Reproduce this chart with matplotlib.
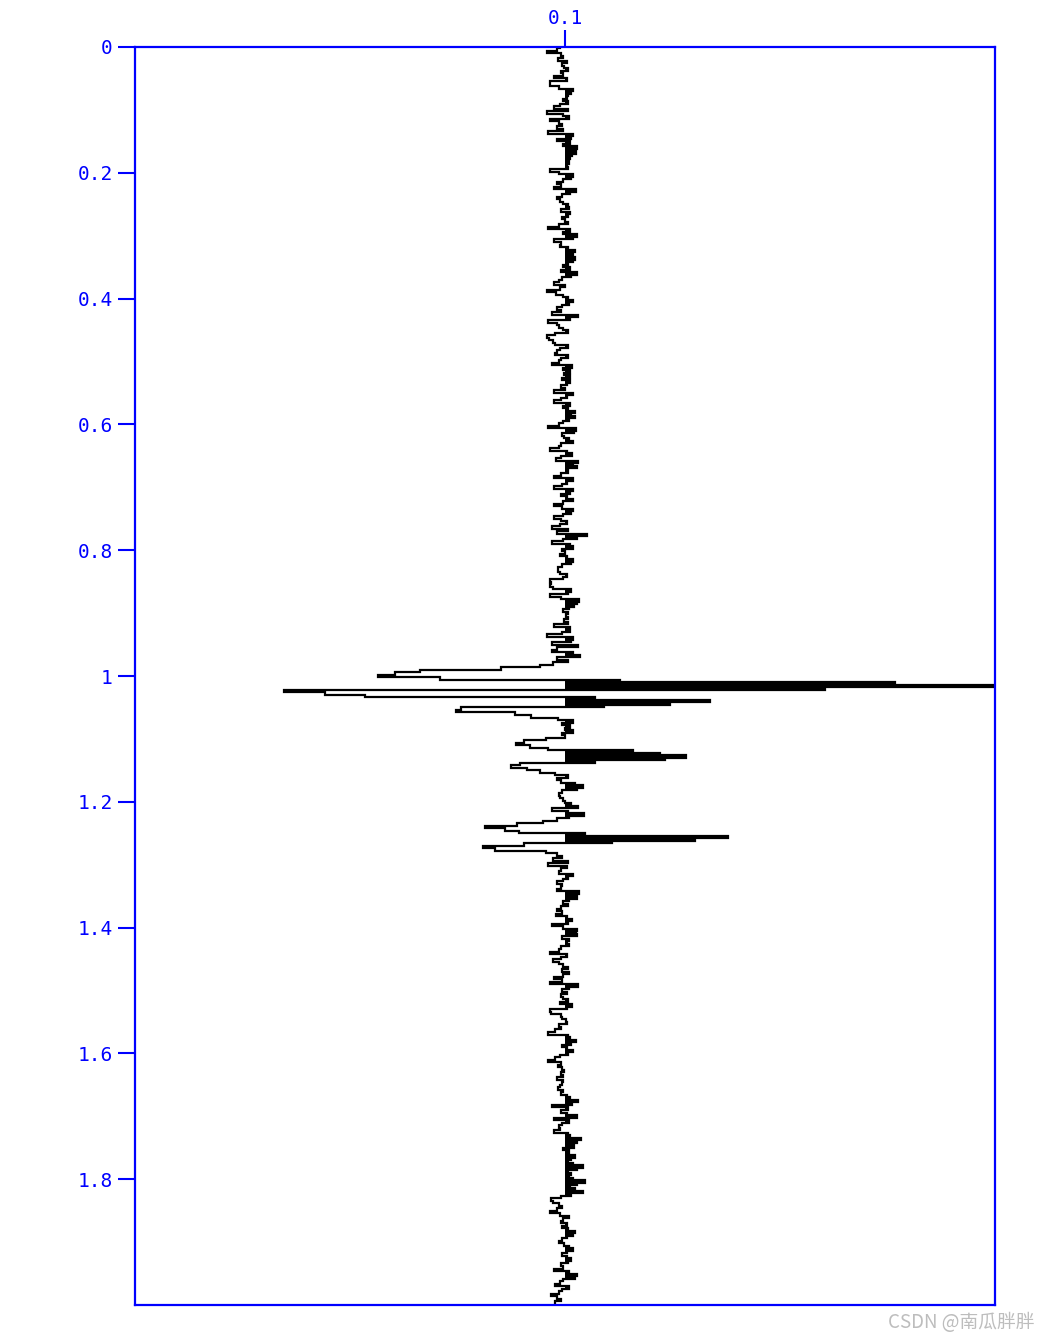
import numpy as np
import matplotlib
matplotlib.use('Agg')
import matplotlib.pyplot as plt
from matplotlib.ticker import FixedLocator, FuncFormatter

# one seismic trace, 4 ms sampling, amplitudes
dt = 0.004
trace_key = 0.1
clip = 430

amp = [
    -5, -8, -18, -4, -2, -7, 2, -3, -1, 3,
    -4, -2, -11, 2, -15, -15, -6, 8, 6, 3,
    2, -2, 3, -5, -11, 3, -18, -2, 4, -15,
    -6, -3, -8, -2, -17, 8, 6, -8, 5, -2,
    12, 10, 11, 7, 5, 3, 4, 2, 3, -15,
    -6, 8, 6, -2, -8, -4, -11, 11, 5, -3,
    -8, -5, -2, 3, 4, -4, 5, 3, -3, 0,
    3, -6, -17, 5, -2, 12, 8, -11, -4, -5,
    3, 10, 8, 4, 10, 8, 3, -2, 5, -4,
    12, 6, -3, -6, -11, 0, -5, -18, -9, -2,
    3, 8, 4, -3, -8, -4, -13, 13, 5, -17,
    -8, -6, -2, 3, -10, -18, -16, -12, -10, 3,
    -5, -8, -10, 3, -4, -6, -13, 7, -2, 5,
    -1, 5, -3, 5, 2, -4, 0, -11, 8, 2,
    -4, -11, 5, -2, 3, 10, 6, 10, 4, -2,
    -6, -17, 11, 9, -3, -1, 4, 8, -4, -6,
    -15, 2, 7, -4, -9, 13, 8, 12, 3, 3,
    -4, -11, 8, 2, -3, -11, 8, 5, -4, 2,
    8, -2, -11, -3, 8, 6, -2, -11, -4, 2,
    -5, -13, 3, -8, 22, 12, -2, -13, 5, 8,
    -3, 0, -5, 2, 8, 6, -3, -7, -7, -5,
    2, -2, -15, -14, -15, -12, 6, 3, -15, -4,
    14, 12, 9, 4, -2, 3, 1, 3, -1, 3,
    -11, 5, 5, -3, -18, 8, 6, -13, 13, -8,
    -13, 8, 15, -8, 3, -12, -25, -64, -145, -170,
    -187, -125, 55, 330, 445, 260, -281, -240, -200, 30,
    145, 105, 39, -104, -109, -50, -34, -7, 8, -3,
    5, 0, 8, -3, 0, -19, -41, -49, -35, -17,
    68, 95, 121, 100, 30, -45, -54, -38, -25, -10,
    3, -8, -4, 10, 18, 12, -3, -6, -5, -2,
    0, 6, 13, -13, 3, 19, 4, -8, -22, -48,
    -80, -60, -46, 20, 163, 130, 47, -41, -82, -70,
    -19, -8, -3, -12, 3, -17, 2, -4, -6, 8,
    3, -2, -8, -3, -4, -8, 14, 10, 12, 4,
    -2, 3, -4, -8, -3, -9, 2, 7, 3, -13,
    -2, 12, 11, 12, -3, 4, 2, 4, -4, -6,
    -15, 2, -4, -12, -6, -2, 3, -3, 4, -2,
    -11, -3, -15, 13, 4, -3, 2, -4, -2, 3,
    -5, 7, 2, -15, -14, -4, -3, 1, 2, -6,
    -4, -10, -17, 3, 5, 11, 6, -3, 2, 8,
    3, -5, -10, -17, -4, -7, -3, -1, -4, -2,
    -8, -2, -3, -5, -7, -2, -4, 2, 5, 13,
    7, -13, 3, -4, 2, 12, -11, 4, -3, -6,
    -5, -11, 3, 5, 16, 12, 3, 9, -2, 4,
    2, 10, 6, 3, 8, 18, 12, 3, 6, 4,
    8, 20, 12, 5, 10, 18, 6, -4, -14, -12,
    -6, -3, -8, -15, -5, 4, -2, -4, 2, -3,
    3, 10, 8, 2, -3, -6, -1, 4, 8, 2,
    -3, 2, 6, 3, -4, -2, -11, 4, 12, 10,
    -2, -5, -10, 4, -3, -6, -14, -8, -4, -10,
]
ytick_vals = [0, 0.2, 0.4, 0.6, 0.8, 1.0, 1.2, 1.4, 1.6, 1.8]

blue = '#0000ff'
scale = 0.001  # trace units -> x axis units

a = np.clip(np.array(amp, dtype=float), -clip, clip)
x = trace_key + a * scale
# each sample held over its own time cell
edges = (np.arange(len(a) + 1) - 0.5) * dt
edges[0] = 0

fig = plt.figure(figsize=(10.4, 13.4), dpi=100)
ax = fig.add_axes([135/1040, 1 - 1305/1340, 860/1040, 1258/1340])

ax.stairs(np.maximum(x, trace_key), edges, baseline=trace_key, fill=True,
          orientation='horizontal', color='black', linewidth=0)
ax.stairs(x, edges, baseline=None, orientation='horizontal',
          color='black', linewidth=1.6)

ax.set_xlim(trace_key - clip * scale, trace_key + clip * scale)
ax.set_ylim(2.0, 0)

for s in ax.spines.values():
    s.set_color(blue)
    s.set_linewidth(1.6)

ax.xaxis.tick_top()
ax.xaxis.set_major_locator(FixedLocator([trace_key]))
ax.xaxis.set_major_formatter(FuncFormatter(lambda v, p: '%g' % v))
ax.yaxis.set_major_locator(FixedLocator(ytick_vals))
ax.yaxis.set_major_formatter(FuncFormatter(lambda v, p: '%g' % v))
ax.tick_params(axis='both', direction='out', length=12, width=1.5, color=blue,
               labelcolor=blue, labelsize=14, pad=4)
ax.tick_params(axis='x', pad=2)
for lab in ax.get_xticklabels() + ax.get_yticklabels():
    lab.set_family('DejaVu Sans Mono')

fig.text(0.995, 0.005, 'CSDN @南瓜胖胖', ha='right', va='bottom', fontsize=13.5,
         color='#bdbdbd', family=['Noto Sans CJK SC', 'DejaVu Sans'])

fig.savefig('out.png', dpi=100)
